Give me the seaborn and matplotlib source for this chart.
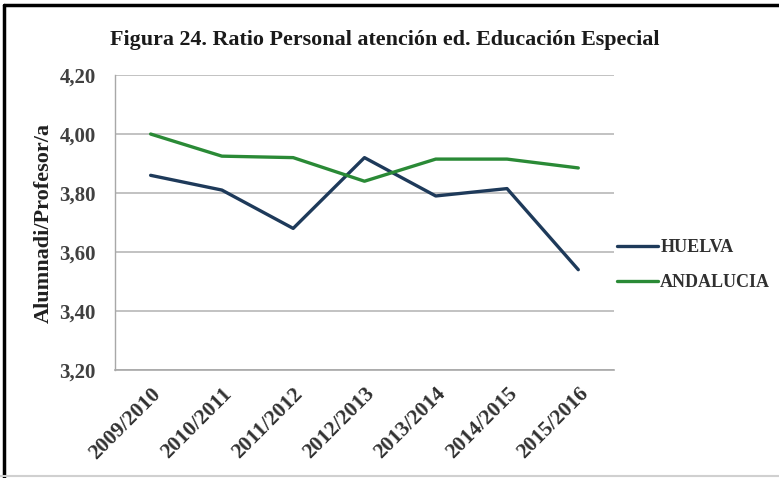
import matplotlib
matplotlib.use("Agg")
import matplotlib.pyplot as plt
from matplotlib.lines import Line2D
import pandas as pd
import seaborn as sns

# data
cursos = ["2009/2010", "2010/2011", "2011/2012", "2012/2013",
          "2013/2014", "2014/2015", "2015/2016"]
huelva = [3.86, 3.81, 3.68, 3.92, 3.79, 3.815, 3.54]
andalucia = [4.00, 3.925, 3.92, 3.84, 3.915, 3.915, 3.885]
series_names = ["HUELVA", "ANDALUCIA"]
y_ticks = [3.20, 3.40, 3.60, 3.80, 4.00, 4.20]

df = pd.DataFrame({
    "curso": cursos * 2,
    "ratio": huelva + andalucia,
    "serie": [series_names[0]] * len(cursos) + [series_names[1]] * len(cursos),
})

sns.set_style("white")
plt.rcParams["font.family"] = ["Liberation Serif", "DejaVu Serif"]
plt.rcParams["font.weight"] = "bold"

fig = plt.figure(figsize=(7.79, 4.78), dpi=100)
ax = fig.add_axes([0.1476, 0.226, 0.6405, 0.617])

palette = {"HUELVA": "#1e3a5a", "ANDALUCIA": "#2a8a36"}
sns.lineplot(data=df, x="curso", y="ratio", hue="serie", palette=palette,
             linewidth=2.4, sort=False, ax=ax)

ax.set_xlim(-0.5, len(cursos) - 0.5)
ax.set_ylim(3.20, 4.20)
ax.set_yticks(y_ticks)
ax.set_yticklabels([f"{v:.2f}".replace(".", ",") for v in y_ticks],
                   fontsize=15, fontweight="bold", color="#404040")
ax.set_xticks(range(len(cursos)))
ax.set_xticklabels(cursos, rotation=45, ha="right", rotation_mode="anchor",
                   fontsize=15.5, fontweight="bold", color="#303030")
ax.tick_params(axis="y", length=0, pad=14)
ax.tick_params(axis="x", length=0, pad=10)

ax.grid(axis="y", color="#b8b8b8", linewidth=1.2)
ax.set_axisbelow(True)
for side in ["top", "right"]:
    ax.spines[side].set_visible(False)
ax.spines["left"].set_color("#a8a8a8")
ax.spines["bottom"].set_color("#a8a8a8")
ax.spines["left"].set_linewidth(1.0)
ax.spines["bottom"].set_linewidth(1.2)

ax.set_xlabel("")
ax.set_ylabel("Alumnadi/Profesor/a", fontsize=16, fontweight="bold",
              color="#202020", labelpad=4)

fig.text(0.494, 0.916, "Figura 24. Ratio Personal atención ed. Educación Especial",
         ha="center", va="center", fontsize=15.8, fontweight="bold", color="#1a1a1a")

leg = ax.legend(loc="center left", bbox_to_anchor=(1.006, 0.356), frameon=False,
                borderaxespad=0, borderpad=0,
                handlelength=2.3, handletextpad=0.1, labelspacing=1.0,
                prop={"size": 13, "weight": "bold"})
for t in leg.get_texts():
    t.set_color("#303030")

# outer frame like the pasted image (black on left/top, grey bottom)
fig.add_artist(Line2D([0.005, 0.005], [0.0, 0.99], color="black", lw=2.5,
                      transform=fig.transFigure))
fig.add_artist(Line2D([0.005, 1.0], [0.99, 0.99], color="black", lw=2.5,
                      transform=fig.transFigure))
fig.add_artist(Line2D([0.0, 1.0], [0.004, 0.004], color="#d0d0d0", lw=1.5,
                      transform=fig.transFigure))

fig.savefig("out.png", dpi=100)
